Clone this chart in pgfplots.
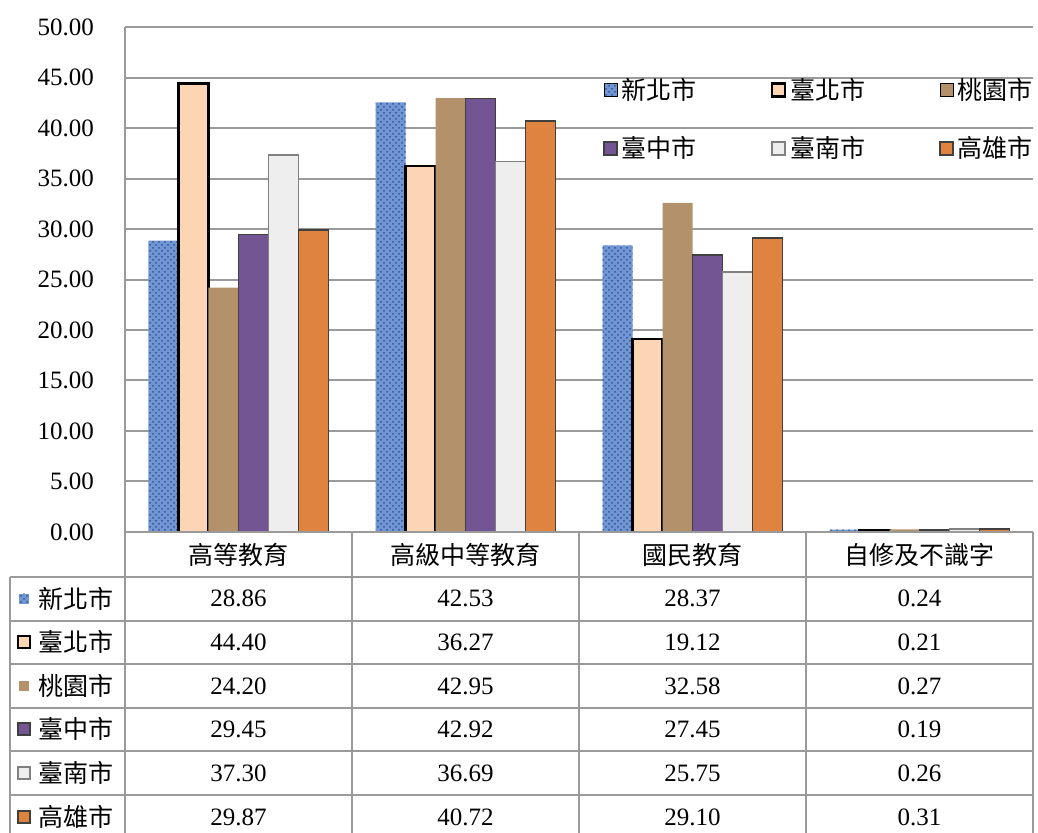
\documentclass[border=0pt]{standalone}
\usepackage{fontspec}
\setmainfont{Liberation Serif}
\newfontfamily\cjk{Noto Sans CJK TC}
\usepackage{pgfplots}
\usepackage{pgfplotstable}
\pgfplotsset{compat=1.18}
\usetikzlibrary{patterns}
\definecolor{gridgray}{HTML}{9A9A9A}
\definecolor{cblue}{HTML}{7196D3}
\definecolor{cbluedark}{HTML}{2F5597}
\definecolor{cpeach}{HTML}{FCD5B5}
\definecolor{cbrown}{HTML}{B3916A}
\definecolor{cpurple}{HTML}{735594}
\definecolor{cgray}{HTML}{EEEEEE}
\definecolor{corange}{HTML}{DF8340}
\definecolor{cborder}{HTML}{404040}
\newcommand\fs{\fontsize{12.5pt}{14pt}\selectfont}
\tikzset{
 s1/.style={fill=cblue, draw=none, postaction={pattern=crosshatch dots, pattern color=cbluedark}},
 s2/.style={fill=cpeach, draw=black, line width=1.1pt},
 s3/.style={fill=cbrown, draw=none},
 s4/.style={fill=cpurple, draw=cborder, line width=0.9pt},
 s5/.style={fill=cgray, draw=gray, line width=0.9pt},
 s6/.style={fill=corange, draw=cborder, line width=0.9pt},
}
\pgfplotstableread{
x xinbei taipei taoyuan taichung tainan kaohsiung
0 28.86 44.40 24.20 29.45 37.30 29.87
1 42.53 36.27 42.95 42.92 36.69 40.72
2 28.37 19.12 32.58 27.45 25.75 29.10
3 0.24 0.21 0.27 0.19 0.26 0.31
}\data
\begin{document}
\begin{tikzpicture}
\path[use as bounding box] (0,0) rectangle (519pt,-416.5pt);
\clip (0,0) rectangle (519pt,-416.5pt);
\begin{axis}[
 at={(62.5pt,-266pt)}, anchor=south west,
 scale only axis, width=454pt, height=252.5pt,
 ybar=0pt, bar width=15pt,
 xmin=-0.5, xmax=3.5, ymin=0, ymax=50,
 xtick=\empty, ytick={0,5,...,50},
 ymajorgrids, grid style={gridgray, line width=1pt},
 axis line style={draw=none},
 major tick length=0pt,
 scaled y ticks=false,
 yticklabel style={font=\fs, xshift=-12pt,
   /pgf/number format/fixed, /pgf/number format/fixed zerofill, /pgf/number format/precision=2},
 /pgf/number format/assume math mode=true,
 legend columns=3,
 legend cell align=left,
 legend style={at={(0.526,0.908)}, anchor=north west, draw=none, fill=none,
   font=\cjk\fs, row sep=13pt, inner sep=0pt,
   /tikz/every even column/.append style={column sep=35pt}},
 legend image code/.code={\draw[#1] (0pt,-3.25pt) rectangle (6.5pt,3.25pt);},
]
\addplot[s1] table[x=x,y=xinbei]{\data};
\addplot[s2] table[x=x,y=taipei]{\data};
\addplot[s3] table[x=x,y=taoyuan]{\data};
\addplot[s4] table[x=x,y=taichung]{\data};
\addplot[s5] table[x=x,y=tainan]{\data};
\addplot[s6] table[x=x,y=kaohsiung]{\data};
\legend{新北市,臺北市,桃園市,臺中市,臺南市,高雄市}
\end{axis}
\begin{scope}[x=0.5pt,y=-0.5pt]
\begin{scope}[gridgray, line width=1pt]
\draw (125,27) -- (125,840);
\foreach \x in {352,579,806,1033} \draw (\x,532) -- (\x,840);
\draw (10,577) -- (10,840);
\draw (125,532) -- (1033,532);
\foreach \y in {577,620.5,664,707.5,751,795} \draw (10,\y) -- (1033,\y);
\end{scope}
\begin{scope}[every node/.style={font=\cjk\fs}]
\node at (238.5,555) {高等教育};
\node at (465.5,555) {高級中等教育};
\node at (692.5,555) {國民教育};
\node at (919.5,555) {自修及不識字};
\node[anchor=west, inner sep=0pt] at (38,598.5) {新北市};
\node[anchor=west, inner sep=0pt] at (38,642) {臺北市};
\node[anchor=west, inner sep=0pt] at (38,686) {桃園市};
\node[anchor=west, inner sep=0pt] at (38,729) {臺中市};
\node[anchor=west, inner sep=0pt] at (38,773) {臺南市};
\node[anchor=west, inner sep=0pt] at (38,817) {高雄市};
\end{scope}
\path[s1] (19,593.5) rectangle (29,603.5);
\path[s2] (18,636) rectangle (30,648);
\path[s3] (19,681) rectangle (29,691);
\path[s4] (18,723) rectangle (30,735);
\path[s5] (18,767) rectangle (30,779);
\path[s6] (18,811) rectangle (30,823);
\foreach \yy/\a/\b/\c/\d in {598.5/28.86/42.53/28.37/0.24, 642/44.40/36.27/19.12/0.21,
  686/24.20/42.95/32.58/0.27, 729/29.45/42.92/27.45/0.19, 773/37.30/36.69/25.75/0.26,
  817/29.87/40.72/29.10/0.31} {
  \node[font=\fs] at (238.5,\yy) {\a};
  \node[font=\fs] at (465.5,\yy) {\b};
  \node[font=\fs] at (692.5,\yy) {\c};
  \node[font=\fs] at (919.5,\yy) {\d};
}
\end{scope}
\end{tikzpicture}
\end{document}
